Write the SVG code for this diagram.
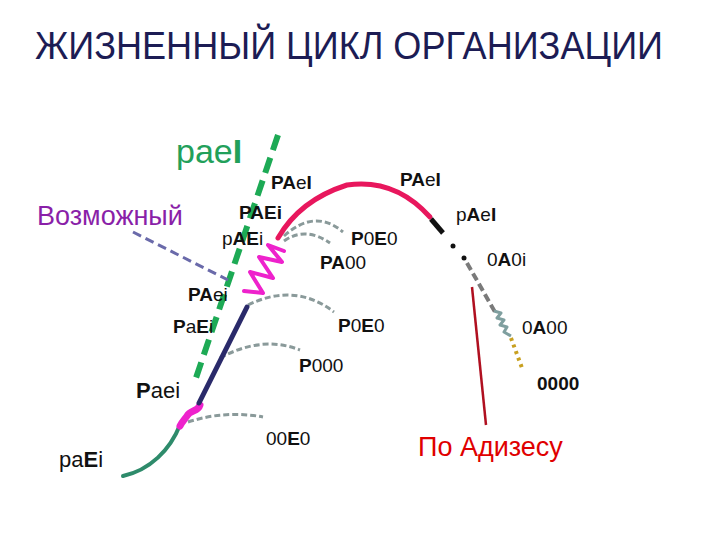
<svg xmlns="http://www.w3.org/2000/svg" width="720" height="540" viewBox="0 0 720 540">
<style>
text{font-family:"Liberation Sans",Arial,sans-serif;fill:#111}
.b{font-weight:bold}
.lbl{font-size:19px}
.arc{fill:none;stroke:#8a9a9a;stroke-width:3;stroke-dasharray:6 3}
</style>
<rect width="720" height="540" fill="#fff"/>
<text x="35" y="59" font-size="38" style="fill:#1c1c54" textLength="628" lengthAdjust="spacingAndGlyphs">ЖИЗНЕННЫЙ ЦИКЛ ОРГАНИЗАЦИИ</text>

<g id="connectors">
  <path d="M278,135 L196,378" fill="none" stroke="#1daa55" stroke-width="6" stroke-dasharray="16 8"/>
  <path d="M133,232 L228,280" fill="none" stroke="#6a6aaa" stroke-width="3" stroke-dasharray="9 5"/>
  <path class="arc" d="M284,236 Q315,208 343,232"/>
  <path class="arc" d="M284,241 Q305,226 330,243"/>
  <path class="arc" d="M248,305 Q295,282 334,312"/>
  <path class="arc" d="M220,358 Q262,335 300,350"/>
  <path class="arc" d="M188,422 Q225,410 263,417"/>
  <path d="M472,287 L486,425" fill="none" stroke="#b01020" stroke-width="2.5"/>
</g>

<g id="curve">
  <path d="M180,425 C170,450 150,470 123,476" fill="none" stroke="#2e8b6b" stroke-width="4" stroke-linecap="round"/>
  <path d="M200,405 C198,412 190,410 187,416 C184,420 182,422 180,426" fill="none" stroke="#ee22cc" stroke-width="7" stroke-linecap="round"/>
  <path d="M247,307 L199,403" fill="none" stroke="#2a2a6a" stroke-width="5" stroke-linecap="round"/>
  <polyline points="284,251 268,245 282,262 259,257 273,278 250,272 263,293 244,291" fill="none" stroke="#ee22cc" stroke-width="4" stroke-linejoin="round" stroke-linecap="round"/>
  <path d="M278,238 Q300,200 347,185 Q395,178 430,217" fill="none" stroke="#e8175d" stroke-width="5" stroke-linecap="round"/>
  <path d="M431,219 L443,233" fill="none" stroke="#111" stroke-width="5"/>
  <circle cx="453" cy="246" r="2.5" fill="#111"/>
  <circle cx="464" cy="258" r="2.5" fill="#111"/>
  <path d="M467,263 L495,312" fill="none" stroke="#7a7a7a" stroke-width="4" stroke-dasharray="8 4"/>
  <polyline points="494,311 501,313 497,318 504,320 500,325 507,327 504,332 511,336" fill="none" stroke="#7f9f9f" stroke-width="3" stroke-linejoin="round"/>
  <path d="M511,338 L522,368" fill="none" stroke="#c8a020" stroke-width="4" stroke-dasharray="3 4"/>
</g>

<g id="label-pael"><text x="176" y="163" font-size="34" style="fill:#22a05a">pae<tspan class="b">I</tspan></text></g>
<g id="label-vozm"><text x="37" y="225" font-size="27" style="fill:#8a1fa8">Возможный</text></g>
<g id="label-adizes"><text x="418" y="456" font-size="27" style="fill:#e00000">По Адизесу</text></g>

<g id="l1"><text class="lbl" x="271" y="189"><tspan class="b">PA</tspan>e<tspan class="b">I</tspan></text></g>
<g id="l2"><text class="lbl" x="400" y="186"><tspan class="b">PA</tspan>e<tspan class="b">I</tspan></text></g>
<g id="l3"><text class="lbl b" x="239" y="219">PAEi</text></g>
<g id="l4"><text class="lbl" x="222" y="245">p<tspan class="b">AE</tspan>i</text></g>
<g id="l5"><text class="lbl" x="456" y="221">p<tspan class="b">A</tspan>e<tspan class="b">I</tspan></text></g>
<g id="l6"><text class="lbl" x="351" y="245"><tspan class="b">P</tspan>0<tspan class="b">E</tspan>0</text></g>
<g id="l7"><text class="lbl" x="320" y="269"><tspan class="b">PA</tspan>00</text></g>
<g id="l8"><text class="lbl" x="487" y="266">0<tspan class="b">A</tspan>0i</text></g>
<g id="l9"><text class="lbl" x="188" y="301"><tspan class="b">PA</tspan>ei</text></g>
<g id="l10"><text class="lbl" x="173" y="333"><tspan class="b">P</tspan>a<tspan class="b">E</tspan>i</text></g>
<g id="l11"><text class="lbl" x="338" y="332"><tspan class="b">P</tspan>0<tspan class="b">E</tspan>0</text></g>
<g id="l12"><text class="lbl" x="522" y="334">0<tspan class="b">A</tspan>00</text></g>
<g id="l13"><text class="lbl" x="299" y="372"><tspan class="b">P</tspan>000</text></g>
<g id="l14"><text class="b" x="537" y="390" font-size="19">0000</text></g>
<g id="l15"><text x="136" y="398" font-size="22"><tspan class="b">P</tspan>aei</text></g>
<g id="l16"><text class="lbl" x="266" y="445">00<tspan class="b">E</tspan>0</text></g>
<g id="l17"><text x="59" y="467" font-size="22">pa<tspan class="b">E</tspan>i</text></g>
</svg>
